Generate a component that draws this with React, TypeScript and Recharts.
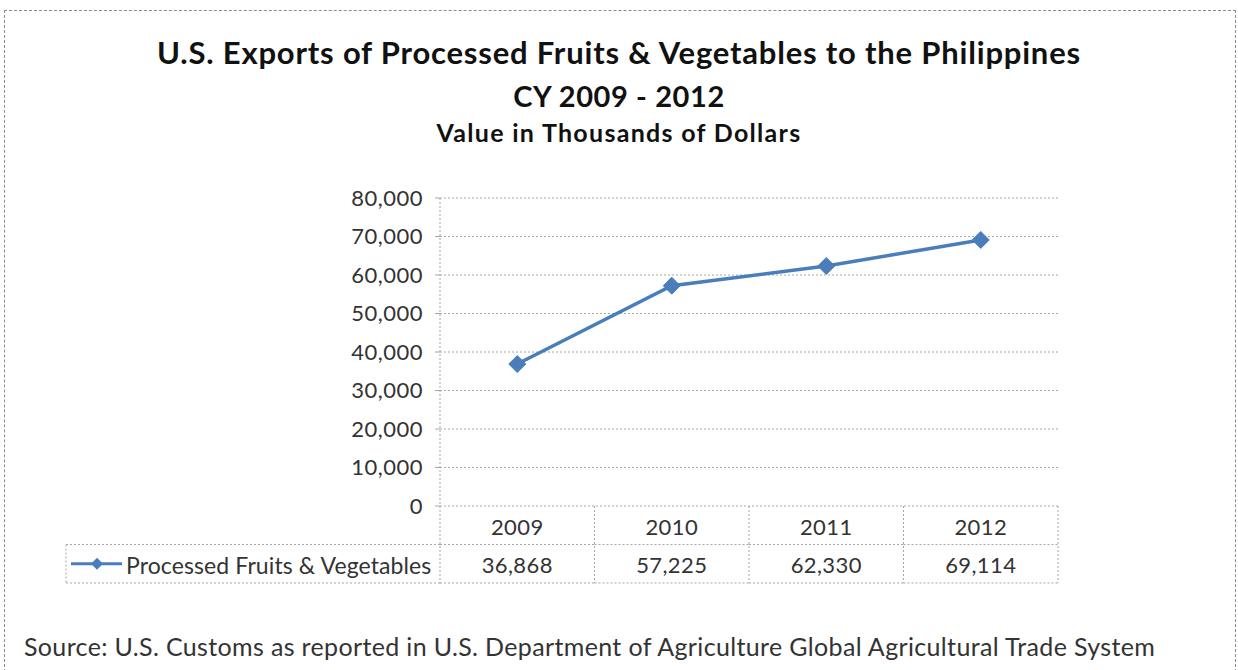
import React from 'react';
import { LineChart, Line, XAxis, YAxis, CartesianGrid, Customized } from 'recharts';

const years = ['2009', '2010', '2011', '2012'];
const values = [36868, 57225, 62330, 69114];
const yTicks = [0, 10000, 20000, 30000, 40000, 50000, 60000, 70000, 80000];
const seriesName = 'Processed Fruits & Vegetables';
const titleLines = ['U.S. Exports of Processed Fruits & Vegetables to the Philippines', 'CY 2009 - 2012'];
const subtitle = 'Value in Thousands of Dollars';
const sourceText = 'Source: U.S. Customs as reported in U.S. Department of Agriculture Global Agricultural Trade System';

const data = years.map((y, i) => ({ year: y, value: values[i] }));

const W = 1238;
const H = 670;
const PLOT_L = 440;
const PLOT_R = 1058;
const PLOT_T = 198;
const PLOT_B = 506;
const ROW_H = 38.5;
const LABEL_L = 66;
const FONT = 'Lato, "Open Sans", sans-serif';
const BLUE = '#4a7ebb';
const GRID = '#a6a6a6';
const TEXT = '#333333';
const fmt = (v: number) => v.toLocaleString('en-US');

const band = (PLOT_R - PLOT_L) / years.length;

const TableTick = (props: any) => {
  const { x, y, payload, index } = props;
  const i = typeof index === 'number' ? index : years.indexOf(payload.value);
  const left = x - band / 2;
  const right = x + band / 2;
  return (
    <g>
      <line x1={right} y1={y} x2={right} y2={y + 2 * ROW_H} stroke={GRID} strokeDasharray="2 2" />
      <line x1={left} y1={y + ROW_H} x2={right} y2={y + ROW_H} stroke={GRID} strokeDasharray="2 2" />
      <line x1={left} y1={y + 2 * ROW_H} x2={right} y2={y + 2 * ROW_H} stroke={GRID} strokeDasharray="2 2" />
      <text x={x} y={y + ROW_H / 2 + 1} textAnchor="middle" dominantBaseline="central" fontSize={22} letterSpacing={0.4} fontFamily={FONT} fill={TEXT}>
        {payload.value}
      </text>
      <text x={x} y={y + ROW_H * 1.5 + 1} textAnchor="middle" dominantBaseline="central" fontSize={22} letterSpacing={0.4} fontFamily={FONT} fill={TEXT}>
        {fmt(values[i])}
      </text>
    </g>
  );
};

const Diamond = (props: any) => {
  const { cx, cy } = props;
  if (cx == null || cy == null) return null;
  const r = 8.5;
  return <polygon points={`${cx},${cy - r} ${cx + r},${cy} ${cx},${cy + r} ${cx - r},${cy}`} fill={BLUE} stroke={BLUE} strokeWidth={1} />;
};

const Decor = () => {
  const rowY = PLOT_B + ROW_H;
  const midY = rowY + ROW_H / 2;
  return (
    <g>
      <text x={619} y={52} textAnchor="middle" dominantBaseline="central" fontSize={31} letterSpacing={0.8} fontWeight="bold" fontFamily={FONT} fill="#111">
        {titleLines[0]}
      </text>
      <text x={619} y={95} textAnchor="middle" dominantBaseline="central" fontSize={29} letterSpacing={0.6} fontWeight="bold" fontFamily={FONT} fill="#111">
        {titleLines[1]}
      </text>
      <text x={619} y={132} textAnchor="middle" dominantBaseline="central" fontSize={25} letterSpacing={1.3} fontWeight="bold" fontFamily={FONT} fill="#111">
        {subtitle}
      </text>
      <line x1={PLOT_L} y1={PLOT_B} x2={PLOT_L} y2={PLOT_B + 2 * ROW_H} stroke={GRID} strokeDasharray="2 2" />
      <line x1={LABEL_L} y1={rowY} x2={PLOT_L} y2={rowY} stroke={GRID} strokeDasharray="2 2" />
      <line x1={LABEL_L} y1={rowY + ROW_H} x2={PLOT_L} y2={rowY + ROW_H} stroke={GRID} strokeDasharray="2 2" />
      <line x1={LABEL_L} y1={rowY} x2={LABEL_L} y2={rowY + ROW_H} stroke={GRID} strokeDasharray="2 2" />
      <line x1={71} y1={midY} x2={122} y2={midY} stroke={BLUE} strokeWidth={3} />
      <polygon points={`97,${midY - 6} 103,${midY} 97,${midY + 6} 91,${midY}`} fill={BLUE} />
      <text x={126} y={midY + 1} textAnchor="start" dominantBaseline="central" fontSize={23} letterSpacing={0.1} fontFamily={FONT} fill={TEXT}>
        {seriesName}
      </text>
      <text x={24} y={646} textAnchor="start" dominantBaseline="central" fontSize={25} letterSpacing={0.35} fontFamily={FONT} fill={TEXT}>
        {sourceText}
      </text>
    </g>
  );
};

export default function App() {
  return (
    <div style={{ position: 'absolute', left: 0, top: 0, width: W, height: H, overflow: 'hidden', background: '#fff' }}>
      <div style={{ position: 'absolute', left: 4, top: 10, width: 1230, height: 700, border: '1px dashed #8c8c8c' }} />
      <div style={{ position: 'absolute', left: 0, top: 0 }}>
        <LineChart width={W} height={H} data={data} margin={{ top: PLOT_T, right: W - PLOT_R, bottom: H - PLOT_B - 80, left: PLOT_L - 80 }}>
          <CartesianGrid horizontal={true} vertical={false} stroke={GRID} strokeDasharray="2 2" />
          <XAxis
            dataKey="year"
            height={80}
            tickSize={0}
            tickMargin={0}
            tickLine={false}
            axisLine={false}
            tick={TableTick}
            interval={0}
            padding={{ left: band / 2, right: band / 2 }}
          />
          <YAxis
            width={80}
            domain={[0, 80000]}
            ticks={yTicks}
            interval={0}
            tickFormatter={fmt}
            tickSize={5}
            tickMargin={12}
            tick={{ fontSize: 22, fontFamily: FONT, fill: TEXT, letterSpacing: 0.5 }}
            axisLine={{ stroke: GRID, strokeDasharray: '2 2' }}
            tickLine={{ stroke: GRID }}
          />
          <Line type="linear" dataKey="value" name={seriesName} stroke={BLUE} strokeWidth={3.5} dot={<Diamond />} activeDot={false} isAnimationActive={false} />
          <Customized component={Decor} />
        </LineChart>
      </div>
    </div>
  );
}
